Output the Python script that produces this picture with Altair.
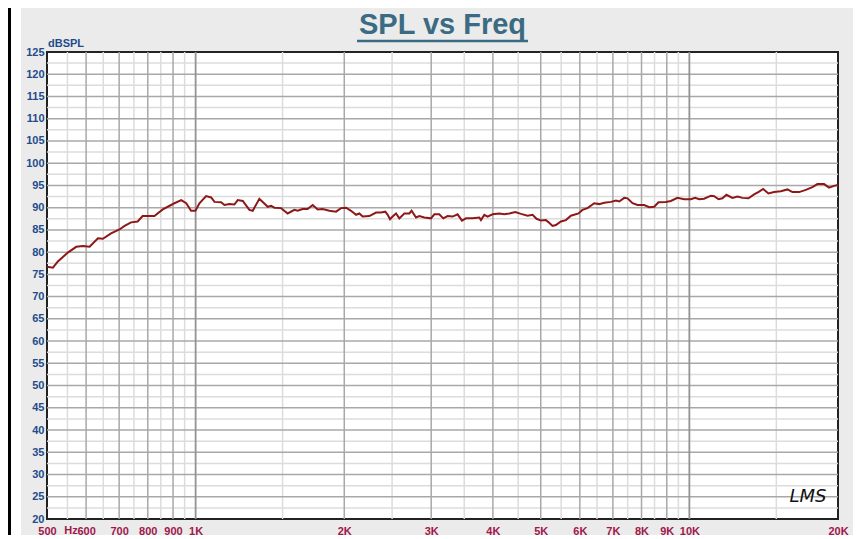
import altair as alt
import pandas as pd

# ---- data ----
freq_hz = [500, 514, 526, 551, 573, 591, 610, 634, 649, 674, 701, 718, 740, 763, 781, 825,
           858, 892, 906, 935, 957, 979, 999, 1018, 1050, 1075, 1092, 1126, 1144, 1171, 1198,
           1217, 1246, 1285, 1305, 1346, 1400, 1422, 1444, 1490, 1536, 1585, 1609, 1647, 1686,
           1726, 1767, 1808, 1866, 1925, 1970, 2017, 2064, 2113, 2146, 2179, 2248, 2320, 2374,
           2422, 2449, 2476, 2506, 2546, 2586, 2646, 2709, 2738, 2795, 2838, 2905, 2997, 3044,
           3115, 3174, 3238, 3315, 3393, 3463, 3528, 3638, 3754, 3784, 3843, 3902, 3994, 4121,
           4218, 4318, 4441, 4560, 4702, 4813, 4903, 5005, 5122, 5201, 5282, 5366, 5493, 5623,
           5755, 5963, 6074, 6218, 6417, 6568, 6723, 6937, 7101, 7211, 7380, 7495, 7672, 7852,
           8101, 8292, 8487, 8659, 8961, 9171, 9461, 9762, 10070, 10273, 10468, 10714, 11057,
           11229, 11456, 11667, 11887, 12226, 12514, 12809, 13171, 13527, 13846, 14107, 14458,
           14848, 15320, 15799, 16172, 16685, 17213, 17749, 18168, 18743, 19183, 19634, 20000]
spl_db = [76.7, 76.5, 77.9, 79.9, 81.2, 81.4, 81.2, 83.1, 83.0, 84.2, 85.1, 85.9, 86.7, 86.9, 88.1, 88.1,
          89.6, 90.6, 91.0, 91.7, 91.0, 89.3, 89.3, 91.0, 92.6, 92.3, 91.3, 91.2, 90.6, 90.8, 90.7,
          91.7, 91.5, 89.5, 89.3, 92.0, 90.2, 90.4, 90.0, 89.9, 88.7, 89.5, 89.3, 89.7, 89.7,
          90.6, 89.6, 89.7, 89.3, 89.1, 89.9, 90.0, 89.3, 88.4, 88.7, 88.0, 88.1, 88.9, 88.9,
          89.1, 88.4, 87.4, 88.0, 88.7, 87.6, 88.7, 88.7, 89.3, 87.8, 88.1, 87.8, 87.6, 88.5,
          88.5, 87.6, 88.1, 88.0, 88.5, 87.1, 87.6, 87.6, 87.8, 87.2, 88.4, 88.0, 88.5, 88.7,
          88.5, 88.7, 89.0, 88.6, 88.2, 88.4, 87.5, 87.1, 87.2, 86.6, 85.9, 86.1, 86.9, 87.2,
          88.2, 88.7, 89.5, 89.9, 91.0, 90.8, 91.1, 91.3, 91.6, 91.4, 92.2, 92.1, 91.0, 90.6,
          90.6, 90.1, 90.2, 91.2, 91.3, 91.5, 92.2, 91.9, 91.9, 92.2, 91.9, 92.0, 92.7,
          92.6, 91.9, 92.1, 92.9, 92.2, 92.5, 92.2, 92.1, 93.0, 93.6, 94.2, 93.2,
          93.5, 93.7, 94.1, 93.5, 93.5, 94.0, 94.6, 95.3, 95.3, 94.5, 94.9, 95.1]

x_tick_values = [500, 600, 700, 800, 900, 1000, 2000, 3000, 4000, 5000, 6000, 7000, 8000,
                 9000, 10000, 20000]
y_tick_values = list(range(20, 130, 5))
major_x = [600, 700, 800, 900, 2000, 3000, 4000, 5000, 6000, 7000, 8000, 9000]
decade_x = [1000, 10000]
minor_x = [550, 650, 750, 850, 950, 1500, 2500, 3500, 4500, 5500, 6500, 7500, 8500, 9500, 15000]
major_y = list(range(25, 125, 5))
minor_y = [v + 2.5 for v in range(20, 125, 5)]

title_text = "SPL vs Freq"
y_title_text = "dBSPL"
x_unit_text = "Hz"
logo_text = "LMS"

# ---- layout ----
W, H = 791, 467
BG = "#ebebeb"
TITLE_COLOR = "#3b6b83"
Y_COLOR = "#1f4c8c"
X_COLOR = "#a0174a"
CURVE = "#8e1818"
FONT = "Liberation Sans Narrow, Arial Narrow, Liberation Sans, Arial, sans-serif"

xscale = alt.Scale(type="log", domain=[500, 20000], nice=False)
yscale = alt.Scale(domain=[20, 125], nice=False, zero=False)

xaxis = alt.Axis(values=x_tick_values, grid=False, ticks=False, domain=False, title=None,
                 labelExpr="datum.value >= 1000 ? (datum.value / 1000) + 'K' : datum.value",
                 labelColor=X_COLOR, labelFont=FONT, labelFontWeight="bold",
                 labelFontSize=11, labelPadding=6, labelOverlap=False,
                 labelFlush=False, labelBound=False)
yaxis = alt.Axis(values=y_tick_values, grid=False, ticks=False, domain=False, title=None,
                 labelColor=Y_COLOR, labelFont=FONT, labelFontWeight="bold",
                 labelFontSize=11, labelPadding=3, labelOverlap=False,
                 labelFlush=False, labelBound=False)

one = pd.DataFrame({"a": [0]})

left_strip = alt.Chart(one).mark_rect(color="white").encode(
    x=alt.value(-39), x2=alt.value(-26), y=alt.value(-60), y2=alt.value(H + 60))
left_bar = alt.Chart(one).mark_rect(color="black").encode(
    x=alt.value(-39), x2=alt.value(-36), y=alt.value(-60), y2=alt.value(H + 60))

def vrules(vals, color, w):
    return alt.Chart(pd.DataFrame({"freq": vals})).mark_rule(color=color, strokeWidth=w).encode(
        x=alt.X("freq:Q", scale=xscale, axis=xaxis), y=alt.value(0), y2=alt.value(H))

def hrules(vals, color, w):
    return alt.Chart(pd.DataFrame({"spl": vals})).mark_rule(color=color, strokeWidth=w).encode(
        y=alt.Y("spl:Q", scale=yscale, axis=yaxis), x=alt.value(0), x2=alt.value(W))

grid = (vrules(minor_x, "#dcdcdc", 1.5) + hrules(minor_y, "#dcdcdc", 1.5)
        + vrules(major_x, "#a8a8a8", 1.5) + hrules(major_y, "#a8a8a8", 1.5)
        + vrules(decade_x, "#939393", 1.8))

curve_df = pd.DataFrame({"freq": freq_hz, "spl": spl_db})
curve = alt.Chart(curve_df).mark_line(color=CURVE, strokeWidth=2).encode(
    x=alt.X("freq:Q", scale=xscale, axis=xaxis),
    y=alt.Y("spl:Q", scale=yscale, axis=yaxis),
    order="freq:Q",
)

title = alt.Chart(pd.DataFrame({"t": [title_text]})).mark_text(
    font="Liberation Sans, Arial, sans-serif", fontSize=29, fontWeight="bold",
    color=TITLE_COLOR, align="center", baseline="alphabetic").encode(
    text="t:N", x=alt.value(W / 2), y=alt.value(-17.6))
underline = alt.Chart(one).mark_rule(color=TITLE_COLOR, strokeWidth=2.5).encode(
    x=alt.value(310), x2=alt.value(481), y=alt.value(-11))

y_title = alt.Chart(pd.DataFrame({"t": [y_title_text]})).mark_text(
    font=FONT, fontSize=11, fontWeight="bold", color=Y_COLOR,
    align="left", baseline="alphabetic").encode(
    text="t:N", x=alt.value(1), y=alt.value(-5))

hz = alt.Chart(pd.DataFrame({"t": [x_unit_text]})).mark_text(
    font=FONT, fontSize=11, fontWeight="bold", color=X_COLOR,
    align="center", baseline="top").encode(
    text="t:N", x=alt.value(24), y=alt.value(H + 6))

logo = alt.Chart(pd.DataFrame({"t": [logo_text]})).mark_text(
    font="DejaVu Sans, sans-serif", fontSize=18, fontStyle="italic", color="#111111",
    align="center", baseline="middle").encode(
    text="t:N", x=alt.value(761), y=alt.value(445))

chart = alt.layer(left_strip, left_bar, grid, curve, title, underline, y_title, hz, logo).properties(
    width=W, height=H,
    autosize=alt.AutoSizeParams(type="none"),
    padding={"left": 39, "top": 44, "right": 15, "bottom": 16},
    background=BG,
).configure_view(stroke="#222222", strokeWidth=2, fill="white")

chart.save("out.html", embed_options={"renderer": "svg", "actions": False})
